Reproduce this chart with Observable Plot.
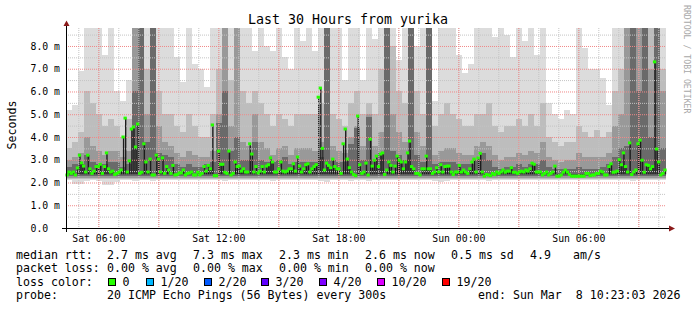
<!DOCTYPE html>
<html><head><meta charset="utf-8">
<script src="https://cdn.jsdelivr.net/npm/d3@7"></script>
<script src="https://cdn.jsdelivr.net/npm/@observablehq/plot@0.6"></script>
<style>body{margin:0;background:#fff}</style>
</head><body><div id="chart"></div>
<script>
// ---------- text ----------
const title = "Last 30 Hours from yurika";
const yLabel = "Seconds";
const credit = "RRDTOOL / TOBI OETIKER";
const startTime = "2026-03-07T04:23:03Z";
const endTime = "2026-03-08T10:23:03Z";

// ---------- axes ----------
const yTicks = [0, 1, 2, 3, 4, 5, 6, 7, 8];
const yTickLabels = ["0.0", "1.0 m", "2.0 m", "3.0 m", "4.0 m", "5.0 m", "6.0 m", "7.0 m", "8.0 m"];
const yMinorGrid = [0.5, 1.5, 2.5, 3.5, 4.5, 5.5, 6.5, 7.5, 8.5];
const xTicks = ["2026-03-07T06:00:00Z", "2026-03-07T12:00:00Z", "2026-03-07T18:00:00Z", "2026-03-08T00:00:00Z", "2026-03-08T06:00:00Z"];
const xTickLabels = ["Sat 06:00", "Sat 12:00", "Sat 18:00", "Sun 00:00", "Sun 06:00"];

// ---------- median rtt (ms), one value per sample, left to right ----------
const median = [
 2.33,2.46,2.4,2.46,2.33,2.64,3.2,2.86,2.72,2.46,3.2,2.6,2.4,2.5,2.7,2.7,2.8,2.4,2.7,3.3,2.6,2.46,2.5,2.35,2.4,2.45,2.55,4.0,4.83,2.46,2.95,4.35,4.44,3.56,4.57,2.4,2.45,3.7,2.9,2.46,3.03,2.33,2.33,3.2,3.03,2.46,3.08,2.4,2.7,2.55,2.4,2.75,2.33,2.35,2.42,
 2.42,2.55,2.33,2.4,2.42,2.46,2.33,2.33,2.45,2.33,2.4,2.7,2.5,2.75,2.6,4.53,2.3,2.3,3.38,2.8,2.8,2.45,2.4,3.38,2.33,2.4,2.9,2.7,2.72,2.5,2.6,2.46,2.46,3.7,3.25,2.46,2.7,2.42,2.5,2.7,2.46,2.72,2.78,3.08,2.9,2.46,2.46,2.6,2.9,2.5,2.46,2.5,2.6,2.6,2.82,2.5,
 3.12,2.72,2.46,2.6,2.78,2.82,2.46,2.6,2.7,2.78,5.75,6.15,3.5,2.55,2.85,2.75,2.65,3.03,2.7,2.6,2.6,2.4,3.7,4.35,3.03,2.65,2.46,2.35,2.3,4.92,2.78,2.4,2.46,2.85,2.33,3.9,2.72,2.98,3.16,2.7,3.25,3.3,2.35,2.55,2.9,2.75,2.46,2.72,3.16,2.98,2.9,2.6,2.9,3.3,3.82,2.7,2.6,2.4,2.4,2.33,2.6,
 2.6,3.16,2.6,2.6,2.4,2.46,2.65,2.46,2.78,2.46,2.7,2.72,2.72,2.46,2.35,2.46,2.46,2.75,2.46,2.55,2.46,2.4,2.6,2.9,3.03,2.46,3.08,3.28,2.46,2.28,2.35,2.33,2.3,2.4,2.35,2.46,2.4,2.46,2.55,2.45,2.5,2.5,2.65,2.45,2.45,2.4,2.46,2.5,2.46,2.55,2.5,2.6,2.85,2.8,2.46,2.46,
 2.46,2.33,2.4,2.46,2.33,2.4,2.46,2.72,2.28,2.28,2.33,2.45,2.55,2.46,2.35,2.28,2.28,2.28,2.28,2.28,2.28,2.28,2.4,2.4,2.3,2.33,2.33,2.4,2.4,2.5,2.46,2.33,2.33,2.7,2.82,2.45,2.46,2.5,3.0,2.78,3.3,2.7,2.46,3.74,2.35,2.46,2.55,3.7,3.86,2.98,2.45,2.78,2.75,2.6,2.7,7.3,3.47,2.9,2.33,2.4,2.55
];

// ---------- smoke envelopes (ms), coarser: one value per 18-minute slot ----------
const smokeLow = [
 2.1,1.95,1.95,2.05,2.1,2.05,1.9,1.9,2.0,2.1,2.1,2.05,2.1,2.1,2.05,2.1,2.1,2.1,2.1,2.1,
 2.1,2.1,2.1,2.1,2.1,2.1,2.05,2.1,2.1,2.1,2.1,2.1,2.1,2.1,2.05,2.1,2.1,2.1,2.1,2.1,
 2.1,2.1,2.05,2.0,2.1,2.1,2.1,2.05,2.1,2.1,2.05,2.1,2.1,2.1,2.1,2.1,2.1,2.1,2.1,2.1,
 2.1,2.05,2.0,2.05,2.1,2.1,2.1,2.1,2.1,2.1,2.05,2.1,2.1,2.1,2.1,2.1,2.1,2.1,2.1,2.1,
 2.1,2.1,2.1,2.1,2.1,2.1,2.1,2.1,2.1,2.1,2.1,2.1,2.1,2.1,2.05,2.1,2.1,2.1,2.1,2.1
];
const smokeTop1 = [
 5.2,5.4,6.9,9,9,9,7.6,9,6.0,5.6,6.5,9,9,9,9,9,9,9,7.5,6.4,
 9,7.2,7.0,6.2,9,9,9,9,9,9,9,7.8,9,8.0,7.8,9,7.5,7.0,9,8.2,
 9,7.8,9,8.0,9,9,6.5,9,9,6.5,9,8.3,9,9,9,7.4,9,9,8.0,9,
 9,5.6,9,9,9,7.6,6.8,7.2,9,9,9,8.4,9,8.5,7.5,9,8.2,9,7.6,9,
 5.5,5.0,4.8,5.2,5.0,9,7.9,7.0,7.0,6.6,5.4,9,9,9,9,9,9,9,9,9
];
const smokeTop2 = [
 3.5,3.8,4.2,6.0,5.5,5.0,4.5,4.8,4.5,4.0,4.8,9,9,7.0,8.0,6.0,5.0,5.0,4.5,4.2,
 5.0,4.5,4.0,4.0,5.0,7.0,9,6.5,8.0,6.0,5.5,6.0,5.5,5.0,4.5,5.0,4.8,4.5,5.0,5.0,
 5.0,5.0,5.5,9,5.0,4.8,4.5,5.5,6.0,5.0,5.5,5.0,7.0,9,8.0,6.0,5.5,9,6.0,5.0,
 9,4.5,5.0,5.5,5.0,4.8,4.5,4.5,5.0,5.0,5.5,4.5,4.2,4.5,4.5,4.8,4.5,5.0,4.5,5.5,
 4.0,3.8,3.6,3.8,3.8,4.5,4.2,4.0,4.3,4.0,4.2,6.0,7.0,9,8.0,9,9,9,9,7.0
];
const smokeTop3 = [
 3.0,3.1,3.3,4.0,3.6,3.4,3.2,3.4,3.4,3.1,3.4,9,9,5.0,9,4.5,3.8,3.6,3.3,3.1,
 3.4,3.2,3.1,3.1,3.4,5.0,9,4.5,9,3.8,3.6,5.0,3.8,3.5,3.2,3.5,3.6,3.2,3.5,3.5,
 3.5,3.4,3.8,9,3.6,3.4,3.3,4.0,4.5,3.6,5.0,3.6,4.2,9,5.0,4.2,3.8,9,4.2,3.6,
 9,3.2,3.4,3.5,3.5,3.3,3.2,3.2,3.6,3.8,3.6,3.2,3.0,3.1,3.1,3.3,3.2,3.4,3.3,3.8,
 3.1,3.0,2.9,3.0,3.0,3.3,3.1,3.1,3.1,3.1,3.3,4.5,5.0,9,6.0,9,9,7.0,9,6.0
];
const smokeTop4 = [
 2.7,2.8,2.8,3.2,2.9,2.8,2.8,2.9,2.9,2.7,2.8,6.0,9,3.8,9,3.3,3.2,3.1,2.8,2.7,
 2.8,2.7,2.7,2.8,2.9,4.6,6.0,3.4,4.0,3.0,3.0,3.8,3.0,2.9,2.9,3.0,3.1,2.8,2.9,2.9,
 2.9,2.9,3.1,9,3.0,2.9,2.9,3.7,4.4,3.0,4.9,3.0,3.3,9,3.4,3.2,3.0,9,3.2,2.9,
 9,2.8,2.9,2.9,2.9,2.8,2.8,2.8,3.0,3.3,3.0,2.7,2.6,2.7,2.7,2.8,2.7,2.8,2.8,3.0,
 2.7,2.6,2.6,2.6,2.6,2.7,2.6,2.6,2.6,2.7,2.8,3.1,3.5,3.6,9,6.0,9,4.0,9,3.5
];

// ---------- legend ----------
const rttLabel = "median rtt:";
const rttStats = ["2.7 ms avg", "7.3 ms max", "2.3 ms min", "2.6 ms now", "0.5 ms sd", "4.9", "am/s"];
const lossLabel = "packet loss:";
const lossStats = ["0.00 % avg", "0.00 % max", "0.00 % min", "0.00 % now"];
const colorLabel = "loss color:";
const lossLevels = ["0", "1/20", "2/20", "3/20", "4/20", "10/20", "19/20"];
const lossColors = ["#26ff00", "#00b8ff", "#0059ff", "#5e00ff", "#7e00ff", "#dd00ff", "#ff0000"];
const probeLabel = "probe:";
const probeText = "20 ICMP Echo Pings (56 Bytes) every 300s";
const endText = "end: Sun Mar  8 10:23:03 2026";

// ---------- build ----------
const t0 = new Date(startTime), t1 = new Date(endTime);
const span = t1 - t0;
const yMax = 8.79;
const N = median.length;
const samples = median.map((m, i) => ({
  x1: new Date(+t0 + i * span / N), x2: new Date(+t0 + (i + 1) * span / N),
  xm: new Date(+t0 + (i + 0.5) * span / N), m
}));
const S = smokeTop1.length;
const smoke = smokeTop1.map((v, i) => ({
  x1: new Date(+t0 + i * span / S), x2: new Date(+t0 + (i + 1) * span / S),
  lo: smokeLow[i], a: Math.min(v, yMax), b: Math.min(smokeTop2[i], yMax),
  c: Math.min(smokeTop3[i], yMax), d: Math.min(smokeTop4[i], yMax)
}));
const xMinor = d3.utcHour.range(new Date("2026-03-07T05:00:00Z"), t1);
const xMajor = d3.utcHour.every(3).range(new Date("2026-03-07T05:00:00Z"), t1);

const mono = "'DejaVu Sans Mono', monospace";
const chart = Plot.plot({
  width: 697, height: 310,
  marginLeft: 66, marginRight: 31, marginTop: 28, marginBottom: 82,
  x: {type: "utc", domain: [t0, t1], axis: null},
  y: {domain: [0, yMax], axis: null},
  style: {background: "#fff", fontFamily: mono, fontSize: "9.8px", overflow: "visible", color: "#000"},
  marks: [
    Plot.rect(smoke, {x1: "x1", x2: "x2", y1: "lo", y2: "a", fill: "#dcdcdc", shapeRendering: "crispEdges"}),
    Plot.rect(smoke, {x1: "x1", x2: "x2", y1: () => 2.15, y2: "b", fill: "#bdbdbd", shapeRendering: "crispEdges"}),
    Plot.rect(smoke, {x1: "x1", x2: "x2", y1: () => 2.2, y2: "c", fill: "#999999", shapeRendering: "crispEdges"}),
    Plot.rect(smoke, {x1: "x1", x2: "x2", y1: () => 2.27, y2: "d", fill: "#6a6a6a", shapeRendering: "crispEdges"}),
    Plot.ruleX(samples, {x: "xm", y1: () => 2.36, y2: "m", stroke: "#1c1c1c", strokeWidth: 1.4}),
    Plot.ruleY(yMinorGrid, {stroke: "#c4c4c4", strokeDasharray: "1,1"}),
    Plot.ruleX(xMinor, {stroke: "#c4c4c4", strokeDasharray: "1,1"}),
    Plot.ruleY(yTicks.slice(1), {stroke: "#f08888", strokeDasharray: "1,1"}),
    Plot.ruleX(xMajor, {stroke: "#f08888", strokeDasharray: "1,1"}),
    Plot.rect(samples, {x1: "x1", x2: "x2", y1: d => d.m - 0.065, y2: d => d.m + 0.065, fill: lossColors[0], insetLeft: -0.6, insetRight: -0.6}),
    Plot.text(yTicks, {x: () => t0, y: d => d, text: (d, i) => yTickLabels[i], textAnchor: "start", dx: -36, fill: "#000"}),
    Plot.text(xTicks, {x: d => new Date(d), y: () => 0, text: (d, i) => xTickLabels[i], dy: 10, fill: "#000"})
  ]
});
document.getElementById("chart").appendChild(chart);

const svg = d3.select(chart);
const g = svg.append("g").attr("font-family", mono).attr("fill", "#000").attr("text-anchor", "start");
// axes with arrows
g.append("line").attr("x1", 62).attr("x2", 670).attr("y1", 228.5).attr("y2", 228.5).attr("stroke", "#000");
g.append("line").attr("x1", 66.5).attr("x2", 66.5).attr("y1", 232).attr("y2", 25).attr("stroke", "#000");
g.append("path").attr("d", "M63.5,26 L69.5,26 L66.5,20.5 Z").attr("fill", "#8b1a1a");
g.append("path").attr("d", "M669,225.5 L669,231.5 L675,228.5 Z").attr("fill", "#8b1a1a");
// title and labels
g.append("text").attr("x", 348).attr("y", 24).attr("text-anchor", "middle").attr("font-size", "13.3px").text(title);
g.append("text").attr("transform", "translate(16,125) rotate(-90)").attr("text-anchor", "middle").attr("font-size", "11.6px").text(yLabel);
g.append("text").attr("transform", "translate(684,5) rotate(90)").attr("text-anchor", "start").attr("font-size", "8.2px").attr("fill", "#a8a8a8").text(credit);
// legend
const L = g.append("g").attr("font-size", "11.6px").attr("text-anchor", "start").style("white-space", "pre");
const put = (x, y, s) => L.append("text").attr("x", x).attr("y", y).attr("text-anchor", "start").text(s);
const rttX = [107, 193, 279, 365, 451, 530, 573];
put(16, 258.5, rttLabel);
rttStats.forEach((s, i) => put(rttX[i], 258.5, s));
put(16, 272, lossLabel);
lossStats.forEach((s, i) => put(rttX[i], 272, s));
put(16, 285.5, colorLabel);
const boxX = [108, 146, 204, 261, 319, 377, 442];
lossLevels.forEach((s, i) => {
  L.append("rect").attr("x", boxX[i] + 0.5).attr("y", 278.5).attr("width", 7).attr("height", 7)
    .attr("fill", lossColors[i]).attr("stroke", "#000");
  put(boxX[i] + 14.5, 285.5, s);
});
put(16, 299, probeLabel);
put(107, 299, probeText);
put(478, 299, endText);
</script>
</body></html>
